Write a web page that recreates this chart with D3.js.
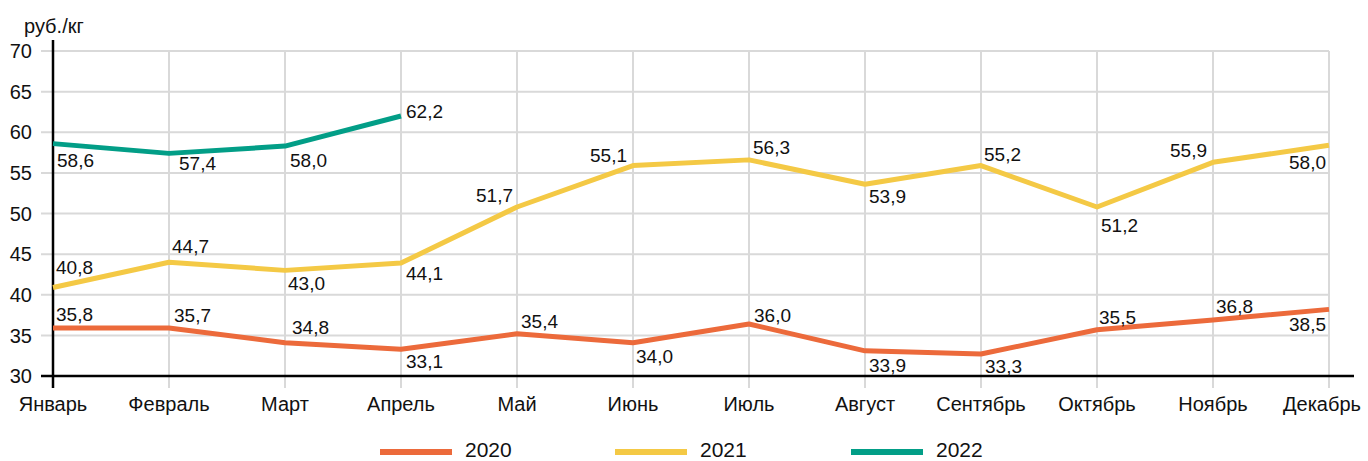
<!DOCTYPE html>
<html><head><meta charset="utf-8">
<script src="https://cdn.jsdelivr.net/npm/d3@7"></script>
<style>
body{margin:0;background:#fff;}
svg text{font-family:"Liberation Sans Narrow","Arial Narrow","Liberation Sans",Arial,sans-serif;fill:#111;}
</style></head>
<body><svg id="c" width="1368" height="461"></svg>
<script>
const months = ["Январь","Февраль","Март","Апрель","Май","Июнь","Июль","Август","Сентябрь","Октябрь","Ноябрь","Декабрь"];
const yTicks = [30,35,40,45,50,55,60,65,70];
const unitLabel = "руб./кг";
const seriesNames = ["2020","2021","2022"];
const values2020 = [35.9,35.9,34.1,33.3,35.2,34.1,36.4,33.1,32.7,35.7,36.9,38.2];
const values2021 = [40.9,44.0,43.0,43.9,50.8,55.9,56.6,53.6,55.9,50.8,56.3,58.4];
const values2022 = [58.6,57.4,58.3,62.0];
// printed data labels
const labels2020 = ["35,8","35,7","34,8","33,1","35,4","34,0","36,0","33,9","33,3","35,5","36,8","38,5"];
const labels2021 = ["40,8","44,7","43,0","44,1","51,7","55,1","56,3","53,9","55,2","51,2","55,9","58,0"];
const labels2022 = ["58,6","57,4","58,0","62,2"];
// label placement [dx, dy, anchor]
const place2020 = [[3,-7,"s"],[5,-6,"s"],[7,-9,"s"],[5,19,"s"],[4,-6,"s"],[3,20,"s"],[5,-2,"s"],[4,21,"s"],[4,19,"s"],[2,-6,"s"],[3,-7,"s"],[-3,22,"e"]];
const place2021 = [[3,-13,"s"],[3,-9,"s"],[3,20,"s"],[5,17,"s"],[-4,-5,"e"],[-6,-4,"e"],[4,-6,"s"],[4,19,"s"],[3,-5,"s"],[4,25,"s"],[-6,-5,"e"],[-3,24,"e"]];
const place2022 = [[4,23,"s"],[10,17,"s"],[5,21,"s"],[5,2,"s"]];
const colors = ["#EC6A3B","#F4C945","#029E87"];

const svg = d3.select("#c");
const x = d3.scaleLinear().domain([0,11]).range([53,1329]);
const y = d3.scaleLinear().domain([30,70]).range([376,51]);
const grid = "#d9d9d9";

// horizontal grid
svg.append("g").selectAll("line").data(yTicks).join("line")
  .attr("x1",41).attr("x2",x(11)).attr("y1",d=>y(d)).attr("y2",d=>y(d))
  .attr("stroke",grid).attr("stroke-width",2);
// vertical grid
svg.append("g").selectAll("line").data(months.slice(1)).join("line")
  .attr("x1",(d,i)=>x(i+1)).attr("x2",(d,i)=>x(i+1)).attr("y1",y(70)).attr("y2",388)
  .attr("stroke",grid).attr("stroke-width",2);
// y tick labels
svg.append("g").selectAll("text").data(yTicks).join("text")
  .attr("x",32).attr("y",d=>y(d)).attr("dy","0.36em").attr("text-anchor","end")
  .attr("font-size",20).text(d=>d);
// axes
svg.append("line").attr("x1",41).attr("x2",1354).attr("y1",y(30)).attr("y2",y(30)).attr("stroke","#000").attr("stroke-width",2.5);
svg.append("line").attr("x1",x(0)).attr("x2",x(0)).attr("y1",40).attr("y2",388).attr("stroke","#000").attr("stroke-width",2.5);
// unit
svg.append("text").attr("x",24).attr("y",33).attr("font-size",20).text(unitLabel);
// month labels
svg.append("g").selectAll("text").data(months).join("text")
  .attr("x",(d,i)=>i===11?1322:x(i)).attr("y",411).attr("text-anchor","middle")
  .attr("font-size",20).text(d=>d);

const series = [
  {vals:values2020, labs:labels2020, pl:place2020, c:colors[0]},
  {vals:values2021, labs:labels2021, pl:place2021, c:colors[1]},
  {vals:values2022, labs:labels2022, pl:place2022, c:colors[2]}
];
const line = d3.line().x((d,i)=>x(i)).y(d=>y(d));
series.forEach(s=>{
  svg.append("path").datum(s.vals).attr("d",line).attr("fill","none")
    .attr("stroke",s.c).attr("stroke-width",5).attr("stroke-linejoin","round");
});
series.forEach(s=>{
  svg.append("g").selectAll("text").data(s.labs).join("text")
    .attr("x",(d,i)=>x(i)+s.pl[i][0]).attr("y",(d,i)=>y(s.vals[i])+s.pl[i][1])
    .attr("text-anchor",(d,i)=>s.pl[i][2]==="e"?"end":"start")
    .attr("font-size",19).text(d=>d);
});
// legend
const lg = svg.append("g");
const legX = [380,615,851];
seriesNames.forEach((n,i)=>{
  lg.append("line").attr("x1",legX[i]).attr("x2",legX[i]+72).attr("y1",452).attr("y2",452)
    .attr("stroke",colors[i]).attr("stroke-width",6);
  lg.append("text").attr("x",legX[i]+85).attr("y",457).attr("font-size",21).text(n);
});
</script></body></html>
